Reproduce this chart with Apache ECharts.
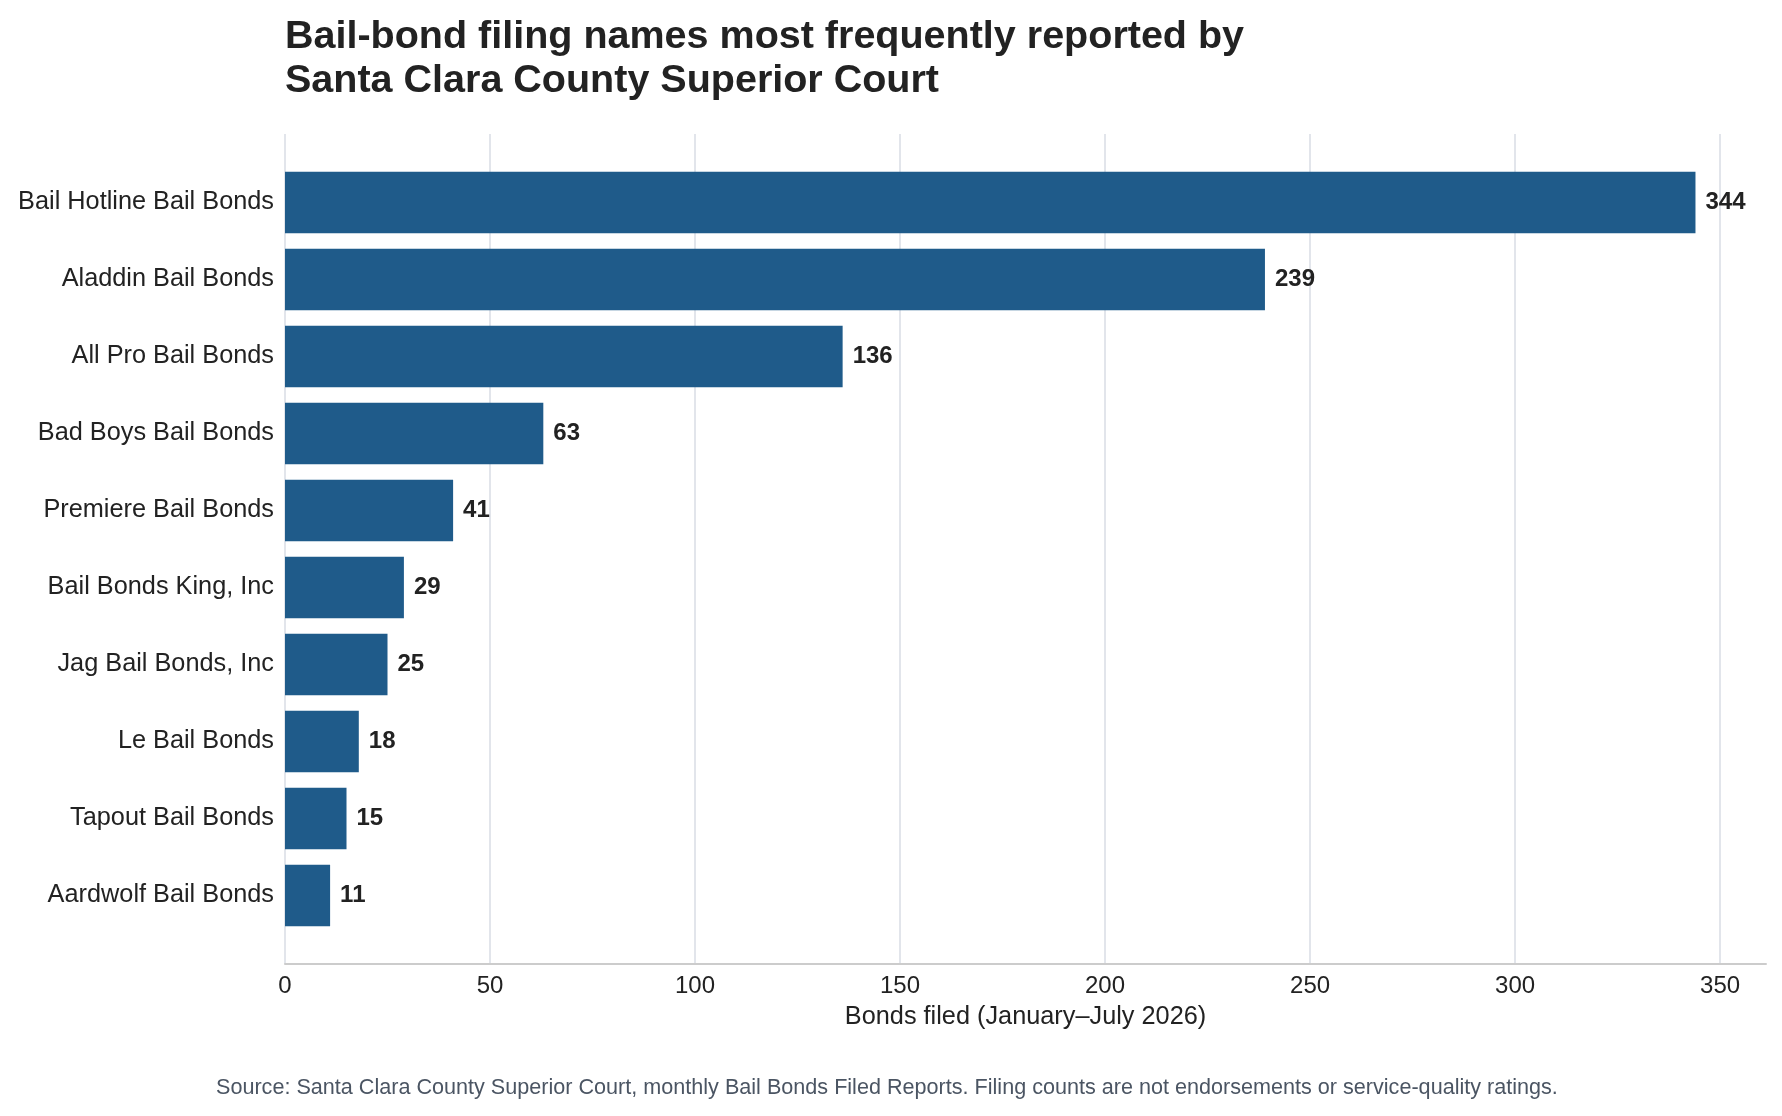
<!DOCTYPE html>
<html>
<head>
<meta charset="utf-8">
<title>Bail-bond filing names</title>
<script src="https://cdn.jsdelivr.net/npm/echarts@6/dist/echarts.min.js"></script>
<style>
    body { margin: 0; background: #fff; }
    #chart { width: 1782px; height: 1116px; }
</style>
</head>
<body>
<div id="chart"></div>
<script>
    var names = ['Bail Hotline Bail Bonds', 'Aladdin Bail Bonds', 'All Pro Bail Bonds', 'Bad Boys Bail Bonds',
        'Premiere Bail Bonds', 'Bail Bonds King, Inc', 'Jag Bail Bonds, Inc', 'Le Bail Bonds',
        'Tapout Bail Bonds', 'Aardwolf Bail Bonds'];
    var counts = [344, 239, 136, 63, 41, 29, 25, 18, 15, 11];
    var xTicks = [0, 50, 100, 150, 200, 250, 300, 350];

    var font = '"Liberation Sans", Arial, sans-serif';
    var xMax = 361.2; // 5% headroom past the longest bar

    var chart = echarts.init(document.getElementById('chart'));

    var option = {
        backgroundColor: '#ffffff',
        textStyle: {fontFamily: font},
        title: [{
            text: 'Bail-bond filing names most frequently reported by\nSanta Clara County Superior Court',
            left: 285,
            top: 15,
            padding: 0,
            textStyle: {fontFamily: font, fontSize: 39.5, fontWeight: 'bold', color: '#222222', lineHeight: 44}
        }, {
            text: 'Source: Santa Clara County Superior Court, monthly Bail Bonds Filed Reports. Filing counts are not endorsements or service-quality ratings.',
            left: 216,
            top: 1077,
            padding: 0,
            textStyle: {fontFamily: font, fontSize: 21.6, fontWeight: 'normal', color: '#4b5563'}
        }],
        grid: [
            // outer frame: gridlines + x axis
            {left: 285, right: 16, top: 134, bottom: 152},
            // inner band area for the bars (matplotlib-like margins)
            {left: 285, right: 16, top: 164, bottom: 182}
        ],
        xAxis: [{
            gridIndex: 0,
            type: 'value',
            min: 0,
            max: xMax,
            interval: 50,
            name: 'Bonds filed (January\u2013July 2026)',
            nameLocation: 'middle',
            nameGap: 41,
            nameTextStyle: {fontFamily: font, fontSize: 25.3, color: '#222222'},
            axisLine: {show: true, lineStyle: {color: '#cccccc', width: 2}},
            axisTick: {show: false, customValues: xTicks},
            axisLabel: {customValues: xTicks, margin: 10, fontFamily: font, fontSize: 24, color: '#222222'},
            splitLine: {show: true, lineStyle: {color: '#d8dde5', width: 1.5}}
        }, {
            gridIndex: 1,
            type: 'value',
            min: 0,
            max: xMax,
            show: false,
            splitLine: {show: false}
        }],
        yAxis: [{
            gridIndex: 0,
            type: 'value',
            min: 0,
            max: 1,
            show: false,
            splitLine: {show: false}
        }, {
            gridIndex: 1,
            type: 'category',
            inverse: true,
            data: names,
            axisLine: {show: false},
            axisTick: {show: false},
            axisLabel: {margin: 11, padding: [5, 0, 0, 0], fontFamily: font, fontSize: 25.3, color: '#222222'},
            splitLine: {show: false}
        }],
        series: [{
            type: 'bar',
            xAxisIndex: 1,
            yAxisIndex: 1,
            data: counts,
            barWidth: '80%',
            itemStyle: {color: '#1f5b8a'},
            label: {
                show: true,
                position: 'right',
                distance: 10,
                fontFamily: font,
                fontSize: 24,
                fontWeight: 'bold',
                color: '#222222'
            },
            animation: false
        }]
    };

    chart.setOption(option);
</script>
</body>
</html>
